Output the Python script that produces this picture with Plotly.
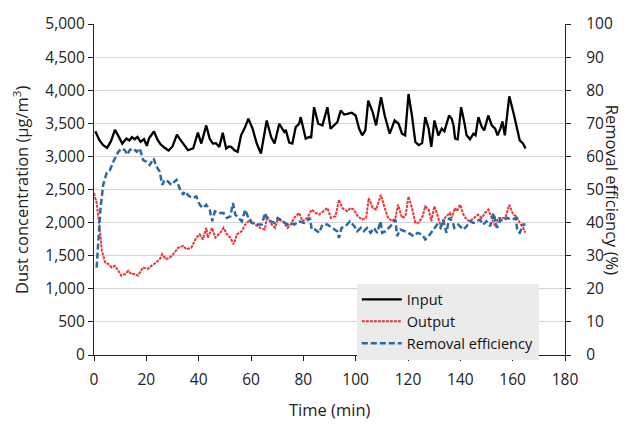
import plotly.graph_objects as go

# Inlet dust concentration (µg/m³) over time (min)
input_time = [0.5, 2, 3.5, 5, 6.5, 8, 9.3, 10.8, 12.4, 13.5, 14.5, 15.5, 16.6, 17.8, 19.1, 20.2, 21, 22.9,
              24.3, 25.5, 27, 28.5, 30, 31.7, 32.7, 34.2, 35.9, 37.9, 39.7, 41, 42.9, 44.2, 45.4, 46.6,
              47.9, 49.2, 50.5, 51.5, 52.4, 53.7, 54.9, 56.2, 57.5, 59, 60.6, 62.2, 63.8, 66, 67.7, 69,
              70.8, 72.7, 73.3, 74.6, 75.8, 77.1, 78.4, 79, 80.9, 82.2, 83, 84.1, 85.7, 87.3, 89.2, 90.4,
              91.7, 93, 94.3, 95.6, 96.8, 98.5, 100, 101.3, 102.5, 103.7, 104.8, 106.5, 107.8, 109.7,
              111.1, 112, 113, 114.9, 116.4, 117.7, 118.9, 120.2, 121.5, 122.8, 124.1, 125.4, 126.6,
              127.9, 128.9, 130.1, 131.6, 132.9, 133.9, 135.7, 136.7, 137.4, 138, 139, 140.3, 141.5,
              142.4, 143.7, 145, 145.8, 146.9, 148.2, 149.1, 150.7, 152, 153.3, 154.2, 155.3, 156.1,
              157, 158.7, 160.4, 161.8, 162.7, 164, 164.9]
input_conc = [3380, 3250, 3170, 3130, 3230, 3400, 3310, 3194, 3270, 3240, 3290, 3260, 3293, 3219, 3260, 3160,
              3270, 3378, 3250, 3180, 3130, 3090, 3150, 3328, 3268, 3180, 3093, 3120, 3358, 3194, 3468,
              3270, 3194, 3200, 3144, 3358, 3120, 3150, 3144, 3093, 3070, 3318, 3420, 3568, 3420, 3194,
              3044, 3543, 3293, 3194, 3493, 3368, 3400, 3210, 3194, 3443, 3493, 3593, 3268, 3293, 3290,
              3743, 3493, 3468, 3743, 3418, 3468, 3518, 3693, 3633, 3643, 3660, 3618, 3420, 3318, 3393,
              3843, 3668, 3468, 3893, 3618, 3468, 3343, 3543, 3493, 3343, 3318, 3943, 3618, 3218, 3170,
              3200, 3593, 3418, 3144, 3543, 3318, 3418, 3380, 3618, 3568, 3468, 3268, 3258, 3743, 3518,
              3318, 3258, 3343, 3318, 3593, 3443, 3393, 3618, 3468, 3418, 3318, 3420, 3528, 3318, 3908,
              3643, 3418, 3243, 3194, 3118]

# Outlet dust concentration (µg/m³)
output_time = [0, 1, 2.3, 3, 4.3, 5.5, 6.8, 8, 9.3, 10.5, 11.8, 13.1, 14.3, 15.5, 16.8, 18.1, 18.7, 20.6,
               21.9, 23.8, 25.1, 26.1, 27.4, 29, 30.3, 32.2, 34.1, 35.3, 37.2, 39.1, 40.4, 41.6, 42.9,
               43.5, 45.1, 46.4, 48.3, 49.5, 50.8, 52.1, 53.4, 54.6, 56.5, 57.8, 59.7, 61.6, 63.5, 65.3,
               66.2, 67.9, 69.2, 70.2, 72.1, 74, 75.2, 76.5, 78.4, 79.7, 81.5, 83.2, 84.7, 86, 89.2, 90.5,
               92.3, 93.6, 94.9, 96.8, 98, 99.3, 100.8, 102.5, 104, 105, 106.5, 107.8, 109.6, 111.1,
               112.4, 113.9, 115.2, 116.2, 117.7, 119, 120.2, 121.5, 122.8, 124, 125.6, 126.6, 127.9,
               128.9, 130.1, 131.4, 132.6, 134.1, 136, 136.7, 138, 138.7, 139.9, 141.2, 142.4, 143.7,
               145, 146.7, 148.2, 149.4, 150.7, 152, 153.3, 154.5, 155.8, 157.2, 158.7, 160.2, 161.5,
               162.7, 164, 164.9]
output_conc = [2445, 2300, 1871, 1572, 1397, 1372, 1322, 1347, 1272, 1198, 1222, 1272, 1222, 1225, 1198,
               1272, 1322, 1300, 1347, 1397, 1447, 1522, 1447, 1472, 1522, 1622, 1647, 1597, 1620, 1772,
               1822, 1747, 1921, 1772, 1921, 1772, 1847, 1921, 1822, 1772, 1672, 1822, 1871, 1971, 2046,
               1971, 1921, 1896, 2096, 1971, 1921, 2046, 2021, 1921, 1971, 2071, 2146, 2021, 2071, 2196,
               2146, 2121, 2221, 2071, 2096, 2346, 2221, 2171, 2221, 2196, 2096, 2046, 2071, 2370, 2221,
               2196, 2420, 2221, 2071, 2021, 2071, 2271, 2071, 2096, 2395, 2221, 1996, 1996, 2096, 2246,
               2196, 2021, 2246, 2096, 1921, 2071, 2146, 2071, 2221, 2171, 2271, 2121, 2046, 2021, 2071,
               2121, 2071, 2146, 2196, 2071, 1946, 2071, 2071, 2071, 2271, 2121, 2096, 1996, 1921, 1847]

# Removal efficiency (%)
eff_time = [1, 1.6, 2.5, 3.5, 4.8, 6.1, 7.4, 9.3, 10.5, 11.8, 12.7, 13.7, 15, 16.3, 17.5, 18.8, 20, 21.3,
            22.8, 23.8, 25.1, 26.1, 27, 28.3, 29.5, 31.5, 32.7, 34.1, 34.6, 36.5, 37.8, 39.1, 40.4, 41.6,
            42.9, 44.2, 45.2, 46.2, 47.5, 49.5, 50.8, 52.1, 53.1, 54, 55.2, 56.5, 57.8, 59, 60.3, 62.2,
            64.1, 65.4, 66.2, 67.3, 68.9, 70.2, 72.1, 74, 75.2, 76.5, 78.4, 80.3, 81.3, 82.5, 83.2, 84.5,
            86.1, 87.3, 89.2, 91, 92.9, 93.6, 94.6, 96.1, 97.8, 99.5, 100.6, 102, 103.1, 104.4, 105.7,
            107, 108.2, 109.5, 110.1, 111.4, 112.6, 113.9, 115.2, 115.8, 117.1, 118.4, 120.2, 122.1,
            123.7, 125.4, 126.6, 127.9, 129.4, 131.1, 132.4, 133.4, 134.7, 135.7, 137, 137.7, 139.2,
            141.2, 142.4, 143.7, 145, 146.2, 147.5, 148.7, 150, 151.4, 152.7, 154, 155.3, 156.5, 157.8,
            159.9, 161.2, 161.8, 162.7, 164, 164.9]
eff_pct = [26.4, 34.4, 44.4, 51.4, 54.9, 55.9, 58.4, 61.4, 62.4, 61.9, 60.5, 62.0, 62.4, 61.4, 62.4, 58.9,
           58.4, 57.4, 59.4, 57.0, 55.4, 51.4, 52.9, 52.4, 51.4, 52.9, 50.4, 48.4, 49.4, 47.9, 47.4, 47.9,
           45.4, 44.4, 45.4, 43.9, 40.4, 43.4, 42.9, 42.9, 41.4, 41.9, 45.9, 42.4, 41.4, 40.4, 43.9, 41.4,
           39.9, 39.4, 39.4, 42.9, 40.9, 40.4, 39.9, 41.4, 40.4, 39.4, 39.9, 39.4, 40.4, 39.9, 40.4, 41.4,
           37.9, 37.9, 36.9, 39.4, 39.4, 38.4, 37.4, 35.4, 38.4, 38.9, 40.4, 38.9, 37.4, 38.4, 37.4, 38.4,
           36.9, 38.4, 36.9, 40.4, 36.9, 37.4, 38.4, 39.4, 40.9, 35.9, 37.9, 37.4, 36.9, 35.9, 36.9, 36.4,
           34.9, 35.9, 37.4, 39.4, 38.4, 40.9, 36.9, 41.4, 40.4, 38.4, 39.4, 37.9, 38.9, 40.4, 39.9, 40.4,
           40.9, 39.4, 40.4, 38.9, 42.9, 38.4, 40.9, 40.4, 41.4, 40.9, 41.4, 37.4, 36.9, 39.4, 39.4]

FONT = "Open Sans"
TEXT_COLOR = "#222222"
AXIS_COLOR = "#2b1d1d"
GRID_COLOR = "#d4d4d4"
TICK_SIZE = 15.5
TITLE_SIZE = 16.5

fig = go.Figure()
fig.add_trace(go.Scatter(x=input_time, y=input_conc, mode="lines", name="Input",
                         line=dict(color="#000000", width=2.3)))
fig.add_trace(go.Scatter(x=output_time, y=output_conc, mode="lines", name="Output",
                         line=dict(color="#ee3338", width=2, dash="3px,1px")))
fig.add_trace(go.Scatter(x=eff_time, y=eff_pct, mode="lines", name="Removal efficiency",
                         yaxis="y2", line=dict(color="#2a6aa3", width=2.5, dash="6px,3px")))

axis_common = dict(showline=True, linecolor=AXIS_COLOR, linewidth=1.3, zeroline=False,
                   ticks="outside", ticklen=5, tickcolor=AXIS_COLOR,
                   tickfont=dict(size=TICK_SIZE, color=TEXT_COLOR))

fig.update_layout(
    width=625, height=425,
    margin=dict(l=94, r=58, t=21, b=70),
    paper_bgcolor="white", plot_bgcolor="white",
    font=dict(family=FONT, size=14, color=TEXT_COLOR),
    showlegend=True,
    legend=dict(x=0.558, y=0.216, xanchor="left", yanchor="top",
                bgcolor="#ebebeb", borderwidth=0,
                font=dict(family=FONT, size=14.5, color="#111111"),
                tracegroupgap=0, itemwidth=40),
    xaxis=dict(range=[0, 180], dtick=20, tick0=0, showgrid=False,
               ticklabelstandoff=5, **axis_common),
    yaxis=dict(range=[0, 5000], dtick=500, tickformat=",d", showgrid=True,
               gridcolor=GRID_COLOR, gridwidth=1.2, **axis_common),
    yaxis2=dict(range=[0, 100], dtick=10, overlaying="y", side="right",
                showgrid=False, ticklabelstandoff=12, **axis_common),
    annotations=[
        dict(text="Dust concentration (μg/m<sup>3</sup>)", xref="paper", yref="paper",
             x=-0.156, y=0.5, xanchor="center", yanchor="middle", showarrow=False,
             textangle=-90, font=dict(family=FONT, size=TITLE_SIZE, color=TEXT_COLOR)),
        dict(text="Removal efficiency (%)", xref="paper", yref="paper",
             x=1.1015, y=0.5, xanchor="center", yanchor="middle", showarrow=False,
             textangle=90, font=dict(family=FONT, size=TITLE_SIZE, color=TEXT_COLOR)),
        dict(text="Time (min)", xref="paper", yref="paper",
             x=0.5, y=-0.165, xanchor="center", yanchor="middle", showarrow=False,
             font=dict(family=FONT, size=TITLE_SIZE, color=TEXT_COLOR)),
    ],
)

fig.write_html("out.html")
